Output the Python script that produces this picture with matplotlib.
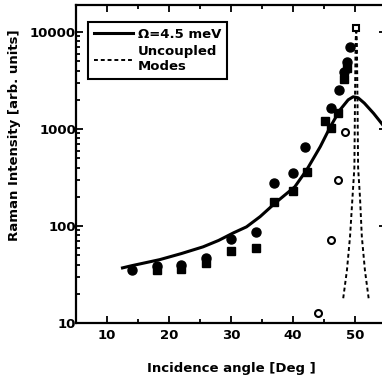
import numpy as np
import matplotlib
matplotlib.use("Agg")
import matplotlib.pyplot as plt
from matplotlib.ticker import FixedLocator, NullFormatter, LogLocator

plt.rcParams['font.family'] = ['DejaVu Sans']
plt.rcParams['font.weight'] = 'bold'

# Daten
curve_x = [12.5, 14, 18.5, 22, 25.5, 28, 30.4, 32.5, 34.7, 37.1, 40.3, 42.2,
           44.4, 46.0, 47.6, 48.9, 49.7, 50.5, 51.5, 53.0, 54.5]
curve_y = [37, 39, 45, 52, 61, 71, 85, 98, 125, 172, 254, 378,
           658, 1050, 1580, 2000, 2150, 2100, 1850, 1450, 1100]

unc_x = [48.1, 48.7, 49.2, 49.6, 49.9, 50.0, 50.1, 50.2, 50.3, 50.4, 50.5, 50.8, 51.1, 51.6, 52.2]
unc_y = [18, 35, 78, 200, 400, 2000, 8000, 11000, 8000, 2000, 400, 200, 78, 35, 18]

circ_x = [14, 18, 22, 26, 30, 34, 37, 40, 42, 46.2, 47.5, 48.2, 48.7, 49.2]
circ_y = [35, 39, 40, 47, 73, 87, 279, 355, 658, 1630, 2500, 3900, 4900, 7050]

sq_x = [18, 22, 26, 30, 34, 37, 40, 42.2, 45.2, 46.2, 47.3, 48.2, 48.7]
sq_y = [35, 36, 42, 55, 60, 178, 230, 360, 1200, 1020, 1450, 3300, 4300]

open_x = [44.1, 46.2, 47.3, 48.4]
open_y = [12.8, 72, 297, 935]
open_sq_x = [50.2]
open_sq_y = [11000]

x_ticks = [10, 20, 30, 40, 50]
y_ticks = [10, 100, 1000, 10000]
y_ticklabels = ['10', '100', '1000', '10000']

fig = plt.figure(figsize=(3.82, 3.84), dpi=100)
ax = fig.add_axes([76 / 382, 61 / 384, 310 / 382, 318 / 384])

# Kurven
ax.plot(curve_x, curve_y, color='black', lw=2.2, label='Ω=4.5 meV', zorder=3)
ax.plot(unc_x, unc_y, color='black', lw=1.4, linestyle=(0, (2, 1.5)),
        label='Uncoupled\nModes', zorder=3)

# Messpunkte
ax.plot(circ_x, circ_y, 'o', color='black', ms=6.5, zorder=4)
ax.plot(sq_x, sq_y, 's', color='black', ms=6, zorder=4)
ax.plot(open_x, open_y, 'o', mfc='white', mec='black', mew=1.5, ms=5, zorder=4)
ax.plot(open_sq_x, open_sq_y, 's', mfc='white', mec='black', mew=1.5, ms=5, zorder=5)

ax.set_yscale('log')
ax.set_xlim(5, 55)
ax.set_ylim(10, 19000)

ax.xaxis.set_major_locator(FixedLocator(x_ticks))
ax.xaxis.set_minor_locator(FixedLocator([5, 15, 25, 35, 45, 55]))
ax.yaxis.set_major_locator(FixedLocator(y_ticks))
ax.set_yticklabels(y_ticklabels)
ax.yaxis.set_minor_locator(LogLocator(base=10, subs=np.arange(2, 10)))
ax.yaxis.set_minor_formatter(NullFormatter())

ax.tick_params(which='both', direction='in', top=True, right=True, width=1.3)
ax.tick_params(which='major', length=5, labelsize=9.5, pad=0)
ax.tick_params(which='minor', length=3)
ax.tick_params(axis='x', pad=4)

for sp in ax.spines.values():
    sp.set_linewidth(1.6)

ax.set_xlabel('Incidence angle [Deg ]', fontsize=9.5, fontweight='bold', labelpad=15)
ax.set_ylabel('Raman Intensity [arb. units]', fontsize=9.5, fontweight='bold')
ax.yaxis.set_label_coords(-0.177, 0.59)

leg = ax.legend(loc='upper left', bbox_to_anchor=(0.04, 0.947), fontsize=9.5,
                handlelength=2.9, handletextpad=0.4, borderpad=0.45,
                labelspacing=0.35, fancybox=False, framealpha=1, borderaxespad=0)
leg.get_frame().set_edgecolor('black')
leg.get_frame().set_linewidth(1.5)

fig.savefig('out.png', dpi=100)
